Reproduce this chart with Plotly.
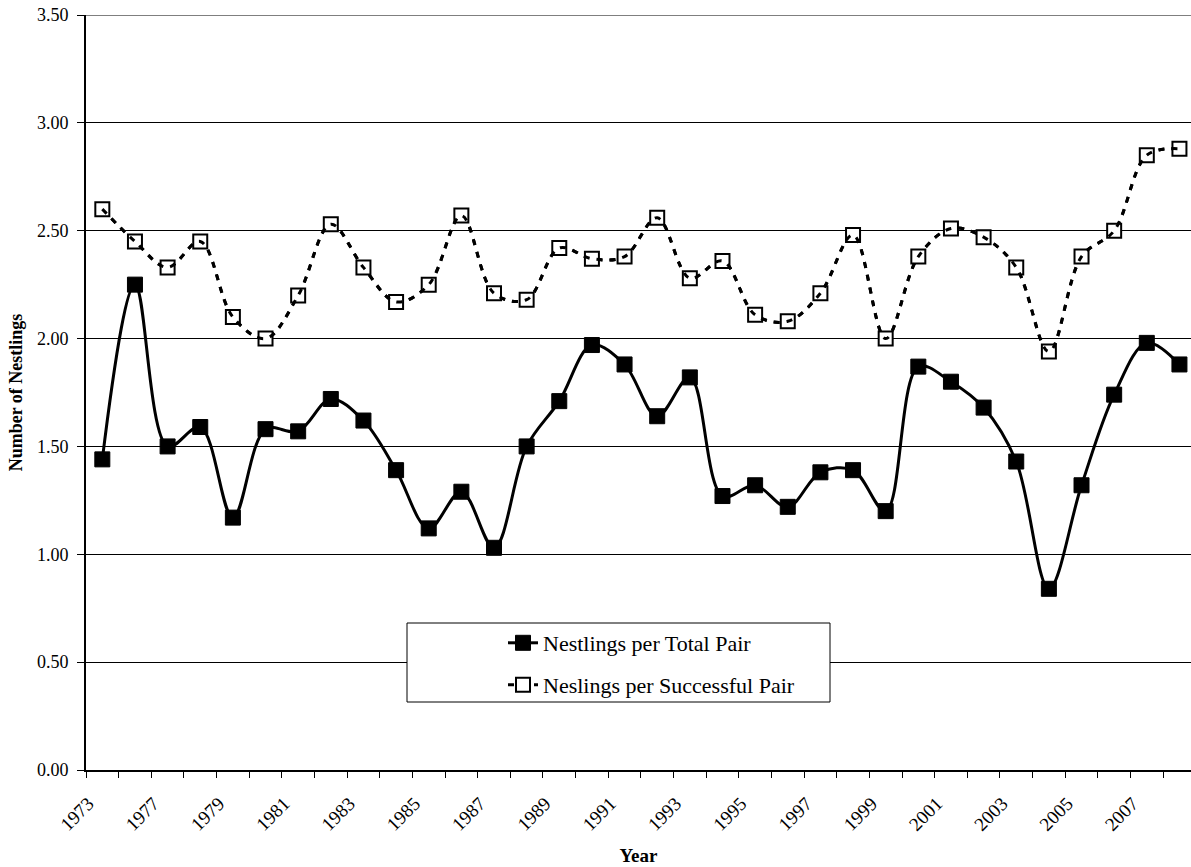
import plotly.graph_objects as go

years = ["1973", "1976", "1977", "1978", "1979", "1980", "1981", "1982", "1983", "1984",
         "1985", "1986", "1987", "1988", "1989", "1990", "1991", "1992", "1993", "1994",
         "1995", "1996", "1997", "1998", "1999", "2000", "2001", "2002", "2003", "2004",
         "2005", "2006", "2007", "2008"]

total_pair = [1.44, 2.25, 1.50, 1.59, 1.17, 1.58, 1.57, 1.72, 1.62, 1.39,
              1.12, 1.29, 1.03, 1.50, 1.71, 1.97, 1.88, 1.64, 1.82, 1.27,
              1.32, 1.22, 1.38, 1.39, 1.20, 1.87, 1.80, 1.68, 1.43, 0.84,
              1.32, 1.74, 1.98, 1.88]

successful_pair = [2.60, 2.45, 2.33, 2.45, 2.10, 2.00, 2.20, 2.53, 2.33, 2.17,
                   2.25, 2.57, 2.21, 2.18, 2.42, 2.37, 2.38, 2.56, 2.28, 2.36,
                   2.11, 2.08, 2.21, 2.48, 2.00, 2.38, 2.51, 2.47, 2.33, 1.94,
                   2.38, 2.50, 2.85, 2.88]

y_ticks = [0.0, 0.5, 1.0, 1.5, 2.0, 2.5, 3.0, 3.5]

FONT = "Liberation Serif, Times New Roman, serif"
DASH = "6px,7px"

tick_text = [y if i % 2 == 0 else "" for i, y in enumerate(years)]

fig = go.Figure()

fig.add_trace(go.Scatter(
    x=years, y=total_pair, mode="lines+markers",
    name="Nestlings per Total Pair",
    line=dict(color="black", width=3, shape="spline", smoothing=1),
    marker=dict(symbol="square", size=15, color="black", line=dict(color="black", width=1)),
    legend="legend",
))

fig.add_trace(go.Scatter(
    x=years, y=successful_pair, mode="lines+markers",
    name="Neslings per Successful Pair",
    line=dict(color="black", width=3, dash=DASH, shape="spline", smoothing=1),
    marker=dict(symbol="square", size=14, color="white", line=dict(color="black", width=2)),
    legend="legend2",
))

# dashed line drawn on top of the open markers (as in the original)
fig.add_trace(go.Scatter(
    x=years, y=successful_pair, mode="lines", showlegend=False, hoverinfo="skip",
    line=dict(color="black", width=3, dash=DASH, shape="spline", smoothing=1),
))

W, H = 1191, 867
L, R, T, B = 86, 0, 15, 97
pw = W - L - R
ph = H - T - B

def px_x(p):
    return (p - L) / pw

def px_y(p):
    return (H - B - p) / ph

fig.add_shape(type="line", xref="paper", yref="y", x0=0, x1=1, y0=y_ticks[-1], y1=y_ticks[-1],
              line=dict(color="black", width=1), layer="below")

fig.add_shape(type="rect", xref="paper", yref="paper",
              x0=px_x(407), x1=px_x(830), y0=px_y(702), y1=px_y(623),
              fillcolor="white", line=dict(color="black", width=1), layer="above")

legend_common = dict(
    bgcolor="rgba(0,0,0,0)", borderwidth=0,
    font=dict(family=FONT, size=22, color="black"),
    xanchor="left", yanchor="middle", xref="paper", yref="paper",
)

fig.update_layout(
    width=W, height=H,
    margin=dict(l=L, r=R, t=T, b=B, pad=0),
    paper_bgcolor="white", plot_bgcolor="white",
    font=dict(family=FONT, size=18, color="black"),
    legend=dict(x=px_x(503), y=px_y(643), **legend_common),
    legend2=dict(x=px_x(503), y=px_y(685), **legend_common),
    xaxis=dict(
        type="category",
        range=[-0.5, -0.5 + pw / 32.64],
        tickmode="array", tickvals=years, ticktext=tick_text,
        tickson="boundaries", ticks="outside", ticklen=6, tickwidth=1, tickcolor="black",
        tickangle=-45, tickfont=dict(family=FONT, size=19, color="black"),
        ticklabelstandoff=13, ticklabelshift=-14,
        showline=True, linecolor="black", linewidth=2,
        showgrid=False, zeroline=False, automargin=False,
        title=dict(text="<b>Year</b>", font=dict(family=FONT, size=19, color="black"), standoff=15),
    ),
    yaxis=dict(
        range=[0, 3.5], tickmode="array", tickvals=y_ticks, tickformat=".2f",
        ticks="outside", ticklen=7, tickwidth=1, tickcolor="black",
        tickfont=dict(family=FONT, size=18, color="black"),
        ticklabelstandoff=5, ticklabeloverflow="allow",
        showline=True, linecolor="black", linewidth=2,
        showgrid=True, gridcolor="black", gridwidth=1,
        zeroline=False, automargin=False,
        title=dict(text="<b>Number of Nestlings</b>", font=dict(family=FONT, size=18, color="black"), standoff=10),
    ),
)

fig.write_html(
    "out.html",
    config={"displayModeBar": False},
    post_script="document.body.style.margin='0';document.body.style.overflow='hidden';",
)
